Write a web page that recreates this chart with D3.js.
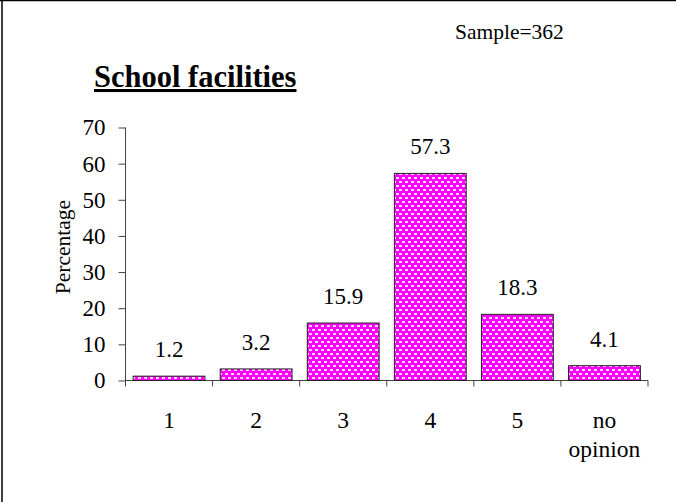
<!DOCTYPE html>
<html><head><meta charset="utf-8">
<script src="https://cdn.jsdelivr.net/npm/d3@7"></script>
<style>
html,body{margin:0;padding:0;background:#fff;}
svg{display:block;}
text{font-family:"Liberation Serif","Times New Roman",serif;fill:#000;}
</style></head>
<body>
<script>
const categories = ["1","2","3","4","5","no opinion"];
const values = [1.2, 3.2, 15.9, 57.3, 18.3, 4.1];
const yTicks = [0,10,20,30,40,50,60,70];
const title = "School facilities";
const sampleNote = "Sample=362";
const yLabel = "Percentage";

const W = 677, H = 502;
const svg = d3.select("body").append("svg").attr("width", W).attr("height", H);

const defs = svg.append("defs");
const pat = defs.append("pattern").attr("id","dots").attr("patternUnits","userSpaceOnUse")
  .attr("width",6).attr("height",8);
pat.append("rect").attr("width",6).attr("height",8).attr("fill","#ff00ff");
pat.append("rect").attr("x",0).attr("y",1).attr("width",3).attr("height",2).attr("fill","#ffffff").attr("opacity",0.85);
pat.append("rect").attr("x",3).attr("y",5).attr("width",3).attr("height",2).attr("fill","#ffffff").attr("opacity",0.85);

// frame
svg.append("line").attr("x1",0).attr("x2",676).attr("y1",0.5).attr("y2",0.5).attr("stroke","#000").attr("stroke-width",1.5);
svg.append("line").attr("x1",2).attr("x2",2).attr("y1",0).attr("y2",H).attr("stroke","#000").attr("stroke-width",1.5);

const x = d3.scaleBand().domain(categories).range([125.5, 648]).paddingInner(0.175).paddingOuter(0.0875);
const y = d3.scaleLinear().domain([0,70]).range([380.5, 127.5]);

const axisColor = "#444";
// y axis
const yAxis = svg.append("g").attr("transform","translate(125.5,0)")
  .call(d3.axisLeft(y).tickValues(yTicks).tickSize(7).tickPadding(13).tickSizeOuter(0));
yAxis.select(".domain").remove();
yAxis.selectAll(".tick line").attr("stroke",axisColor);
yAxis.selectAll("text").style("font-size","23px").style("font-family","Liberation Serif, serif").attr("fill","#000");
svg.append("line").attr("x1",125.5).attr("x2",125.5).attr("y1",y(70)).attr("y2",y(0)+6).attr("stroke",axisColor);

// x axis line and boundary ticks
svg.append("line").attr("x1",125.5).attr("x2",648).attr("y1",y(0)).attr("y2",y(0)).attr("stroke",axisColor);
const step = x.step();
const bounds = categories.map(c => x(c) - step*0.0875 + step);
svg.selectAll(".xt").data(bounds).enter().append("line")
  .attr("x1",d=>d).attr("x2",d=>d).attr("y1",y(0)).attr("y2",y(0)+6).attr("stroke",axisColor);

// bars
svg.selectAll(".bar").data(values).enter().append("rect")
  .attr("x",(d,i)=>x(categories[i]))
  .attr("y",d=>y(d))
  .attr("width",x.bandwidth())
  .attr("height",d=>y(0)-y(d))
  .attr("fill","url(#dots)")
  .attr("stroke","#222").attr("stroke-width",1);

// value labels
svg.selectAll(".vl").data(values).enter().append("text")
  .attr("x",(d,i)=>x(categories[i])+x.bandwidth()/2)
  .attr("y",d=>y(d)-19)
  .attr("text-anchor","middle").style("font-size","23px")
  .text(d=>d.toFixed(1));

// x labels
categories.forEach((c,i)=>{
  const parts = c.split(" ");
  const t = svg.append("text").attr("text-anchor","middle").style("font-size","23.5px")
    .attr("x", x(c)+x.bandwidth()/2).attr("y", 428);
  parts.forEach((p,j)=>t.append("tspan").attr("x",x(c)+x.bandwidth()/2).attr("dy", j===0?0:29).text(p));
});

// y label
svg.append("text").attr("transform","translate(70,247) rotate(-90)").attr("text-anchor","middle")
  .style("font-size","21.5px").text(yLabel);

// title
svg.append("text").attr("x",94).attr("y",87).style("font-size","30.5px").style("font-weight","bold")
  .style("text-decoration","underline").text(title);

svg.append("text").attr("x",455).attr("y",39).style("font-size","21.5px").text(sampleNote);
</script>
</body></html>
